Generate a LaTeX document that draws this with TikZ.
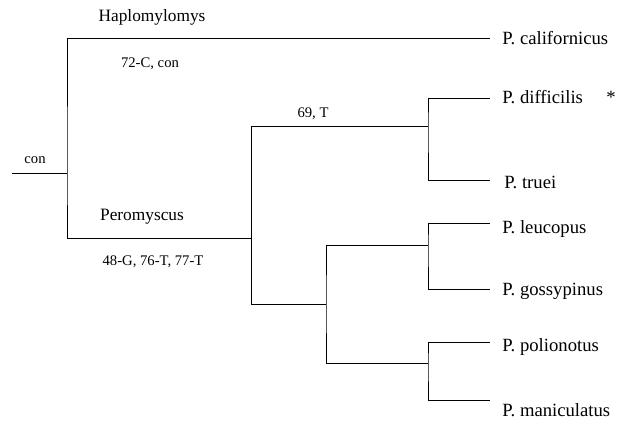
\documentclass[tikz,border=0pt]{standalone}
\usepackage{fontspec}
\setmainfont{Liberation Serif}
\usepackage{tikz}
\usetikzlibrary{positioning}

\begin{document}
\begin{tikzpicture}[x=0.75pt,y=-0.75pt,
	line width=0.6pt,
  taxon/.style={anchor=west,inner sep=0pt,font=\fontsize{14}{16}\selectfont},
  clade/.style={inner sep=0pt,font=\fontsize{13}{15}\selectfont},
  change/.style={inner sep=0pt,font=\fontsize{11}{13}\selectfont}]
  \useasboundingbox (0,0) rectangle (625,424);
  % junctions
  \coordinate (base) at (12,173);
  \coordinate (n0) at (67,173);
  \coordinate (n1) at (251,238);
  \coordinate (n2) at (428,126);
  \coordinate (n3) at (326,304);
  \coordinate (n4) at (428,245);
  \coordinate (n5) at (428,363);
  % tips
  \coordinate (tcal) at (490,38);
  \coordinate (tdif) at (490,98);
  \coordinate (ttru) at (490,180);
  \coordinate (tleu) at (490,223);
  \coordinate (tgos) at (490,289);
  \coordinate (tpol) at (490,342);
  \coordinate (tman) at (490,400);

  \draw (base) -- (n0);
  \draw (tcal) -| (n0) |- (n1);
  \draw (n1) |- (n2);
  \draw (n1) |- (n3);
  \draw (tdif) -| (n2) |- (ttru);
  \draw (n4) -| (n3) |- (n5);
  \draw (tleu) -| (n4) |- (tgos);
  \draw (tpol) -| (n5) |- (tman);

  % species
  \node[taxon] (cal) at (502,38) {P. californicus};
  \node[taxon] (dif) at (502,97) {P. difficilis};
  \node[inner sep=0pt,font=\fontsize{14}{16}\selectfont] (star) at (611,97) {*};
  \node[taxon] (tru) at (504,182) {P. truei};
  \node[taxon] (leu) at (502,229) {P. leucopus};
  \node[taxon] (gos) at (502,291) {P. gossypinus};
  \node[taxon] (pol) at (502,347) {P. polionotus};
  \node[taxon] (man) at (502,410) {P. maniculatus};

  % branch labels
  \node[clade] (hap) at (152,17) {Haplomylomys};
  \node[change] (hapc) at (150,64) {72-C, con};
  \node[change] (rootc) at (35,160) {con};
  \node[clade] (per) at (142,217) {Peromyscus};
  \node[change] (perc) at (153,262) {48-G, 76-T, 77-T};
  \node[change] (difc) at (313,114) {69, T};
\end{tikzpicture}
\end{document}
